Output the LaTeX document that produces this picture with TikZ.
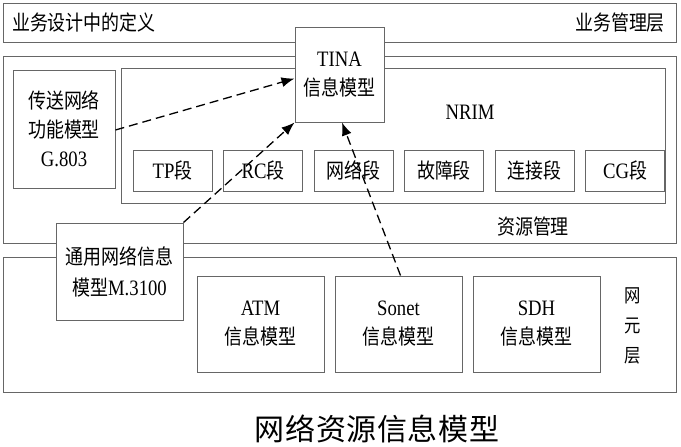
\documentclass[tikz,border=0pt]{standalone}
\usepackage{fontspec}
\setmainfont{Liberation Serif}[FakeStretch=0.85]
\newfontfamily\cjk{Noto Sans CJK SC}[FakeStretch=0.86,Scale=0.95]
\newfontfamily\cjkcap{Noto Sans CJK SC}[LetterSpace=2]
\newcommand{\zh}[1]{{\cjk #1}}
\usetikzlibrary{positioning}
\usetikzlibrary{arrows.meta}

\begin{document}
\begin{tikzpicture}[x=1pt,y=-1pt,
  font=\fontsize{22}{29}\selectfont,
  layer/.style={draw=black!60,line width=1pt,inner sep=0pt},
  box/.style={draw=black!60,line width=1pt,fill=white,align=center,inner sep=0pt},
  seg/.style={box,minimum width=79pt,minimum height=41pt},
  model/.style={box,minimum width=127pt,minimum height=96pt},
  link/.style={line width=1.3pt,dash pattern=on 9pt off 5pt,
    -{Latex[length=13pt,width=10pt]}}]
  \useasboundingbox (0,0) rectangle (681,447);

  \node[layer,minimum width=673pt,minimum height=39pt] (ywc) at (339.5,22.5) {};
  \node[anchor=west] (ywsj) at ([xshift=6pt]ywc.west) {\zh{业务设计中的定义}};
  \node[anchor=east] (ywgl) at ([xshift=-8pt]ywc.east) {\zh{业务管理层}};

  \node[layer,minimum width=673pt,minimum height=187pt] (zyc) at (339.5,149.5) {};
  \node[layer,minimum width=544pt,minimum height=135pt] (nrim) at (393,135.5) {};
  \node (nrimt) at (470,112) {NRIM};
  \node (zygl) at (533,227) {\zh{资源管理}};
  \node[box,minimum width=102pt,minimum height=118pt] (g803) at (64,129)
    {\zh{传送网络}\\\zh{功能模型}\\G.803};

  \node[seg] (tp) at (172.5,170.5) {TP\zh{段}};
  \node[seg,right=10.5pt of tp] (rc) {RC\zh{段}};
  \node[seg,right=10.5pt of rc] (wl) {\zh{网络段}};
  \node[seg,right=10.5pt of wl] (gz) {\zh{故障段}};
  \node[seg,right=10.5pt of gz] (lj) {\zh{连接段}};
  \node[seg,right=10.5pt of lj] (cg) {CG\zh{段}};

  \node[layer,minimum width=673pt,minimum height=135pt] (wyc) at (339.5,324.5) {};
  \node[model] (atm) at (260.5,324) {ATM\\\zh{信息模型}};
  \node[model,right=10pt of atm] (sonet) {Sonet\\\zh{信息模型}};
  \node[model,right=10pt of sonet] (sdh) {SDH\\\zh{信息模型}};
  \node[align=center,font=\fontsize{20}{30}\selectfont] (wy) at (633,326)
    {\zh{网}\\\zh{元}\\\zh{层}};

  \node[box,minimum width=89pt,minimum height=95pt] (tina) at (339.5,74.5)
    {TINA\\\zh{信息模型}};
  \node[box,minimum width=127pt,minimum height=97pt,
    font=\fontsize{22}{31}\selectfont] (m3100) at (119.5,271.5)
    {\zh{通用网络信息}\\\zh{模型}M.3100};

  \draw[link] ([yshift=-1pt]g803.east) -- ([yshift=-4pt]tina.west);
  \draw[link] (m3100.north east) -- (tina.south west);
  \draw[link] ([xshift=2pt]sonet.north) -- ([xshift=2.5pt]tina.south);

  \node (title) at (377,429) {\fontsize{30}{34}\selectfont\cjkcap 网络资源信息模型};
\end{tikzpicture}
\end{document}
